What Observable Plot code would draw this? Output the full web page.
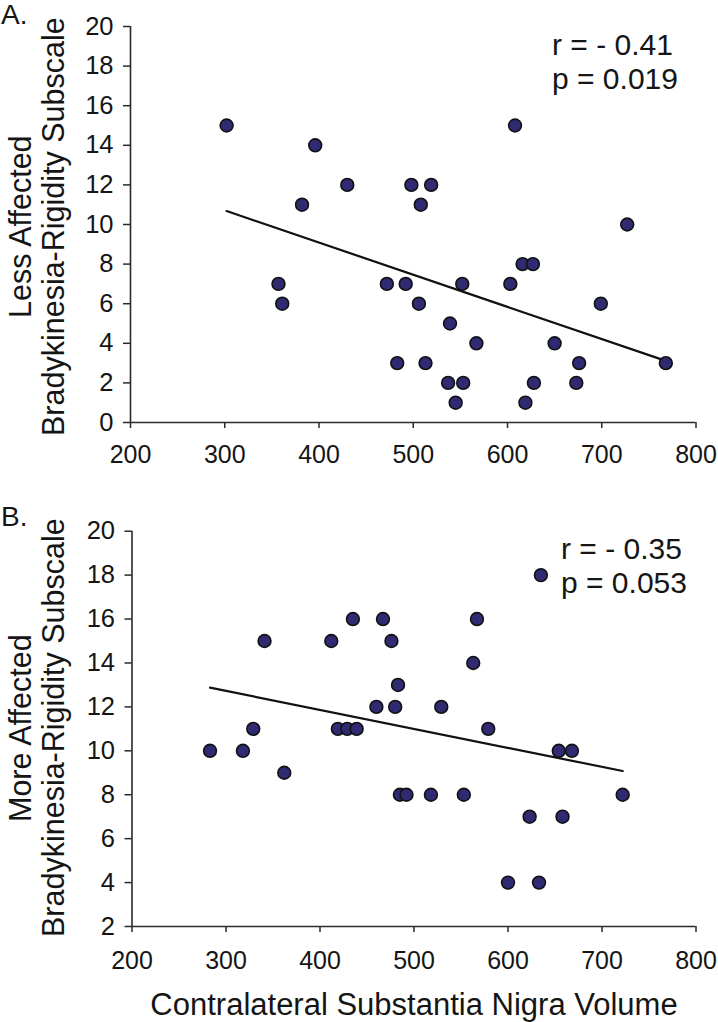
<!DOCTYPE html>
<html>
<head>
<meta charset="utf-8">
<script src="https://cdn.jsdelivr.net/npm/d3@7"></script>
<script src="https://cdn.jsdelivr.net/npm/@observablehq/plot@0.6"></script>
<style>
  html, body { margin: 0; padding: 0; background: #fff; }
  #wrap { position: relative; width: 718px; height: 1022px; overflow: hidden;
          font-family: "Liberation Sans", Arial, Helvetica, sans-serif; color: #151515; }
  .abs { position: absolute; white-space: nowrap; line-height: 1; }
  .panel { font-size: 28px; }
  .ylab { font-size: 30.5px; transform-origin: 0 0; transform: rotate(-90deg); }
  .stat { font-size: 30px; line-height: 34px; }
  .xtitle { font-size: 31px; }
  svg text { fill: #151515; }
</style>
</head>
<body>
<div id="wrap"></div>
<script>
// Panel A: less affected side
const volA   = [302, 396, 430, 382, 357, 361, 608, 498, 519, 508, 727, 616, 627, 472, 492, 552,
                603, 506, 699, 539, 567, 650, 483, 513, 676, 768, 537, 553, 628, 673, 545, 619];
const scoreA = [15, 14, 12, 11, 7, 6, 15, 12, 12, 11, 10, 8, 8, 7, 7, 7,
                7, 6, 6, 5, 4, 4, 3, 3, 3, 3, 2, 2, 2, 2, 1, 1];
// Panel B: more affected side
const volB   = [283, 318, 329, 341, 362, 412, 435, 419, 429, 439, 467, 476, 483, 460, 480, 529,
                567, 563, 635, 579, 654, 668, 485, 492, 518, 553, 722, 623, 658, 600, 633];
const scoreB = [10, 10, 11, 15, 9, 15, 16, 11, 11, 11, 16, 15, 13, 12, 12, 12,
                16, 14, 18, 11, 10, 10, 8, 8, 8, 8, 8, 7, 7, 4, 4];

const xTicks  = [200, 300, 400, 500, 600, 700, 800];
const yTicksA = [0, 2, 4, 6, 8, 10, 12, 14, 16, 18, 20];
const yTicksB = [2, 4, 6, 8, 10, 12, 14, 16, 18, 20];

const panelLabels = ["A.", "B."];
const yLabelLine1 = ["Less Affected", "More Affected"];
const yLabelLine2 = "Bradykinesia-Rigidity Subscale";
const statsA = ["r = - 0.41", "p = 0.019"];
const statsB = ["r = - 0.35", "p = 0.053"];
const xTitle = "Contralateral Substantia Nigra Volume";

const dataA = volA.map((v, i) => ({vol: v, score: scoreA[i]}));
const dataB = volB.map((v, i) => ({vol: v, score: scoreB[i]}));

const wrap = document.getElementById("wrap");

function panel(data, yDomain, yTicks, opts) {
  return Plot.plot({
    width: 718,
    height: opts.height,
    marginLeft: opts.left,
    marginRight: opts.right,
    marginTop: opts.top,
    marginBottom: opts.bottom,
    style: {fontFamily: '"Liberation Sans", Arial, sans-serif', fontSize: "25px", color: "#2a2a2a", background: "#fff", overflow: "visible"},
    x: {domain: [200, 800], ticks: xTicks, label: null},
    y: {domain: yDomain, ticks: yTicks, label: null},
    marks: [
      Plot.axisX({ticks: xTicks, tickSize: 6, tickPadding: opts.xpad, strokeWidth: 1.5, label: null, fontSize: 25}),
      Plot.axisY({ticks: yTicks, tickSize: 7, tickPadding: 10, strokeWidth: 1.5, label: null, fontSize: 25.5}),
      Plot.ruleY([yDomain[0]], {stroke: "#2a2a2a", strokeWidth: 1.6}),
      Plot.ruleX([200], {stroke: "#2a2a2a", strokeWidth: 1.6}),
      Plot.linearRegressionY(data, {x: "vol", y: "score", ci: 0, stroke: "#111", strokeWidth: 2.2}),
      Plot.dot(data, {x: "vol", y: "score", r: 6.4, fill: "#2f2a72", stroke: "#111", strokeWidth: 1.6})
    ]
  });
}

const svgA = panel(dataA, [0, 20], yTicksA, {height: 475, left: 130, right: 22.5, top: 26, bottom: 53, xpad: 17});
svgA.style.position = "absolute"; svgA.style.left = "0px"; svgA.style.top = "0px";
wrap.appendChild(svgA);

const svgB = panel(dataB, [2, 20], yTicksB, {height: 500, left: 131.5, right: 22.5, top: 55.7, bottom: 49, xpad: 19});
svgB.style.position = "absolute"; svgB.style.left = "0px"; svgB.style.top = "475px";
wrap.appendChild(svgB);

function addDiv(cls, text, css) {
  const d = document.createElement("div");
  d.className = "abs " + cls;
  d.textContent = text;
  Object.assign(d.style, css);
  wrap.appendChild(d);
  return d;
}

// Panel letters
addDiv("panel", panelLabels[0], {left: "1px", top: "1px"});
addDiv("panel", panelLabels[1], {left: "1px", top: "503px"});

// Rotated y labels (two lines), centred on plot areas
function yLabel(line1, centerY) {
  const a = addDiv("ylab", line1, {left: "5px", top: "0px"});
  const b = addDiv("ylab", yLabelLine2, {left: "38px", top: "0px"});
  [a, b].forEach(el => {
    const w = el.getBoundingClientRect().height; // rotated: height = text length
    el.style.top = (centerY + w / 2) + "px";
  });
}
yLabel(yLabelLine1[0], 227);
yLabel(yLabelLine1[1], 728);

// Statistics annotations
addDiv("stat", statsA.join("\n"), {left: "552px", top: "28px", whiteSpace: "pre"});
addDiv("stat", statsB.join("\n"), {left: "561px", top: "532px", whiteSpace: "pre"});

// X title
const t = addDiv("xtitle", xTitle, {top: "989px", left: "0px"});
const tw = t.getBoundingClientRect().width;
t.style.left = (414 - tw / 2) + "px";
</script>
</body>
</html>
